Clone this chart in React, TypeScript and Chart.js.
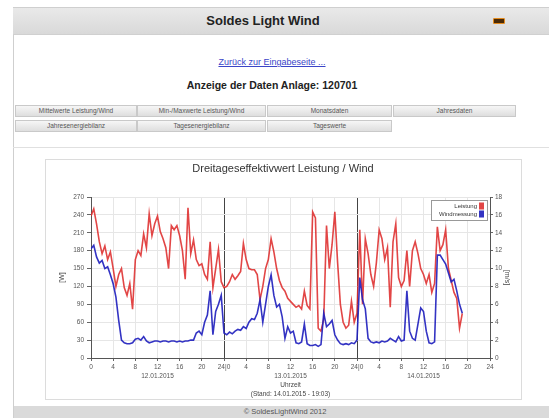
import React, { useEffect, useRef } from "react";
import { Chart, registerables } from "chart.js";

Chart.register(...registerables);

// Half-hourly readings, 12.01.2015 00:00 .. 14.01.2015 19:00
const SAMPLE_STEP_H = 0.5;

const LEISTUNG_W = [
  238, 250, 225, 195, 175, 188, 165, 178, 150, 120,
  140, 150, 118, 105, 125, 82, 165, 180, 172, 208,
  185, 242, 205, 225, 238, 212, 200, 185, 150, 222,
  215, 222, 205, 180, 132, 252, 175, 198, 165, 155,
  158, 140, 132, 195, 118, 150, 182, 128, 118, 120,
  128, 140, 132, 138, 145, 192, 165, 150, 148, 148,
  140, 98, 120, 150, 165, 200, 178, 150, 130, 118,
  112, 100, 95, 90, 85, 88, 82, 112, 88, 82,
  245, 235, 50, 45, 65, 222, 150, 190, 245, 160,
  90, 60, 50, 55, 95, 60, 75, 215, 90, 200,
  175, 140, 120, 160, 215, 200, 165, 185, 85, 195,
  225, 135, 120, 130, 180, 120, 180, 195, 175, 150,
  140, 125, 140, 110, 125, 220, 180, 190, 215, 150,
  130, 110, 100, 50, 75,
];

const WIND_MS = [
  12.2, 12.6, 11.3, 10.6, 10.9, 10.0, 10.2, 9.3, 8.3, 6.8,
  4.2, 2.0, 1.7, 1.6, 1.6, 1.7, 2.1, 2.2, 2.0, 2.4,
  1.9, 1.7, 1.8, 1.9, 1.9, 1.8, 1.9, 1.9, 1.8, 1.9,
  1.9, 1.8, 1.9, 1.8, 1.9, 1.9, 2.0, 2.0, 2.8, 3.0,
  2.6, 4.0, 4.8, 7.5, 2.6, 5.2, 6.0, 7.0, 2.8, 2.6,
  2.9, 2.7, 3.0, 3.2, 3.1, 3.5, 3.3, 4.0, 4.4, 4.3,
  5.0, 6.5, 4.0, 6.0, 8.0, 9.3, 7.0, 5.7, 6.0, 4.6,
  2.2, 3.5, 2.8, 3.0, 1.7, 1.6, 1.8, 3.8, 1.6, 1.4,
  1.4, 1.5, 1.3, 1.5, 5.0, 3.5, 3.8, 4.2, 2.6, 2.0,
  1.6, 1.5, 1.6, 1.5, 1.7, 1.6, 2.0, 9.0, 6.5, 5.5,
  2.2, 1.8, 1.7, 1.8, 1.7, 1.9, 1.8, 1.9, 2.2, 2.0,
  1.8, 2.4, 1.9, 2.0, 7.5, 3.0, 2.2, 2.0, 3.8, 5.6,
  5.2, 3.0, 1.7, 1.6, 1.8, 11.5, 11.5, 11.0, 10.5, 9.5,
  8.5, 8.8, 7.5, 6.0, 5.0,
];

const X_TICK_LABELS = [
  "0", "4", "8", "12", "16", "20", "24|0",
  "4", "8", "12", "16", "20", "24|0",
  "4", "8", "12", "16", "20", "24",
];
const DAY_LABELS: Record<number, string> = {
  12: "12.01.2015",
  36: "13.01.2015",
  60: "14.01.2015",
};
const DAY_BOUNDARIES = [24, 48];

const CHART_TITLE = "Dreitageseffektivwert Leistung / Wind";
const X_TITLE = ["Uhrzeit", "(Stand: 14.01.2015 - 19:03)"];
const Y_LEFT_TITLE = "[W]";
const Y_RIGHT_TITLE = "[m/s]";
const SERIES_NAMES = ["Leistung", "Windmessung"];

const BUTTONS_ROW1 = [
  "Mittelwerte Leistung/Wind",
  "Min-/Maxwerte Leistung/Wind",
  "Monatsdaten",
  "Jahresdaten",
];
const BUTTONS_ROW2 = ["Jahresenergiebilanz", "Tagesenergiebilanz", "Tageswerte"];

const RED = "rgba(222, 44, 44, 0.88)";
const BLUE = "rgba(34, 34, 190, 0.92)";
const FONT = 'Arial, "Liberation Sans", sans-serif';

const boxLegend = {
  id: "boxLegend",
  afterDatasetsDraw(chart: any) {
    const { ctx, chartArea } = chart;
    const w = 56;
    const h = 20;
    const x = chartArea.right - 3 - w;
    const y = chartArea.top + 3;
    ctx.save();
    ctx.fillStyle = "#ffffff";
    ctx.fillRect(x, y, w, h);
    ctx.strokeStyle = "#999";
    ctx.lineWidth = 1;
    ctx.strokeRect(x + 0.5, y + 0.5, w, h);
    ctx.font = `6px ${FONT}`;
    ctx.textAlign = "right";
    ctx.textBaseline = "middle";
    chart.data.datasets.forEach((ds: any, i: number) => {
      const cy = y + 6 + i * 8;
      ctx.fillStyle = "#333";
      ctx.fillText(ds.label, x + w - 10, cy);
      ctx.fillStyle = ds.borderColor;
      ctx.fillRect(x + w - 8, cy - 3.5, 5, 7);
    });
    ctx.restore();
  },
};

function ChartBox() {
  const ref = useRef<HTMLCanvasElement | null>(null);
  useEffect(() => {
    if (!ref.current) return;
    const red = LEISTUNG_W.map((v, i) => ({ x: i * SAMPLE_STEP_H, y: v }));
    const blue = WIND_MS.map((v, i) => ({ x: i * SAMPLE_STEP_H, y: v }));
    const chart = new Chart(ref.current, {
      type: "line",
      data: {
        datasets: [
          {
            label: SERIES_NAMES[0],
            data: red,
            yAxisID: "y",
            borderColor: RED,
            backgroundColor: RED,
            borderWidth: 1.6,
            pointRadius: 0,
            tension: 0,
            order: 1,
          },
          {
            label: SERIES_NAMES[1],
            data: blue,
            yAxisID: "y1",
            borderColor: BLUE,
            backgroundColor: BLUE,
            borderWidth: 1.6,
            pointRadius: 0,
            tension: 0,
            order: 0,
          },
        ],
      },
      options: {
        animation: false,
        responsive: false,
        maintainAspectRatio: false,
        layout: { padding: 0 },
        plugins: {
          legend: { display: false },
          tooltip: { enabled: false },
          title: {
            display: true,
            text: CHART_TITLE,
            color: "#333",
            font: { family: FONT, size: 11, weight: "normal", lineHeight: 1.2 },
            padding: { top: 2, bottom: 21.8 },
          },
        },
        scales: {
          x: {
            type: "linear",
            min: 0,
            max: 72,
            afterFit: (s: any) => {
              s.height = 41;
            },
            ticks: {
              stepSize: 4,
              autoSkip: false,
              maxRotation: 0,
              padding: 1,
              color: "#555",
              font: { family: FONT, size: 6.5, lineHeight: 1.5 },
              callback: (v: any, i: number) => {
                const lbl = X_TICK_LABELS[i] ?? String(v);
                const day = DAY_LABELS[Number(v)];
                return day ? [lbl, day] : lbl;
              },
            },
            grid: {
              color: (c: any) =>
                c.tick && DAY_BOUNDARIES.includes(c.tick.value) ? "#444" : "#e6e6e6",
              tickColor: "#666",
              tickLength: 3,
              lineWidth: 1,
            },
            border: { color: "#555" },
            title: {
              display: true,
              text: X_TITLE,
              color: "#444",
              font: { family: FONT, size: 6.5, lineHeight: 1.38 },
              padding: { top: 0, bottom: 0.5 },
            },
          },
          y: {
            type: "linear",
            position: "left",
            min: 0,
            max: 270,
            afterFit: (s: any) => {
              s.width = 45;
            },
            ticks: {
              stepSize: 30,
              padding: 3,
              color: "#555",
              font: { family: FONT, size: 6.5 },
            },
            grid: { color: "#e6e6e6", tickColor: "#666", tickLength: 4 },
            border: { color: "#555" },
            title: {
              display: true,
              text: Y_LEFT_TITLE,
              color: "#444",
              font: { family: FONT, size: 7, lineHeight: 1.2 },
              padding: { top: 11.8, bottom: 0 },
            },
          },
          y1: {
            type: "linear",
            position: "right",
            min: 0,
            max: 18,
            afterFit: (s: any) => {
              s.width = 30;
            },
            ticks: {
              stepSize: 2,
              padding: 2,
              color: "#555",
              font: { family: FONT, size: 6.5 },
            },
            grid: { drawOnChartArea: false, tickColor: "#666", tickLength: 3 },
            border: { color: "#555" },
            title: {
              display: true,
              text: Y_RIGHT_TITLE,
              color: "#444",
              font: { family: FONT, size: 7, lineHeight: 1.2 },
              padding: { top: 8.8, bottom: 0 },
            },
          },
        },
      },
      plugins: [boxLegend],
    } as any);
    return () => chart.destroy();
  }, []);
  return (
    <canvas
      ref={ref}
      width={474}
      height={239}
      style={{ position: "absolute", left: 46, top: 160, width: 474, height: 239 }}
    />
  );
}

const btnStyle = (left: number, top: number, width: number): React.CSSProperties => ({
  position: "absolute",
  left,
  top,
  width,
  height: 12,
  boxSizing: "border-box",
  border: "1px solid #c9c9c9",
  background: "linear-gradient(#f6f6f6, #dedede)",
  color: "#555",
  fontSize: 6.5,
  lineHeight: "10px",
  textAlign: "center",
  whiteSpace: "nowrap",
  overflow: "hidden",
});

const COLS = [
  [15, 122],
  [137, 129],
  [267, 125],
  [393, 123],
];

export default function App() {
  return (
    <div
      style={{
        position: "absolute",
        left: 0,
        top: 0,
        width: 549,
        height: 418,
        overflow: "hidden",
        background: "#fff",
        fontFamily: FONT,
      }}
    >
      <div style={{ position: "absolute", left: 13, top: 7, width: 1, height: 411, background: "#cfcfcf" }} />
      <div
        style={{
          position: "absolute",
          left: 13,
          top: 7,
          width: 536,
          height: 26,
          borderTop: "1px solid #cfcfcf",
          borderBottom: "1px solid #d0d0d0",
          background: "linear-gradient(#e9e9e9, #d9d9d9)",
        }}
      />
      <div
        style={{
          position: "absolute",
          left: 163,
          top: 13,
          width: 200,
          textAlign: "center",
          fontSize: 13,
          lineHeight: "15px",
          fontWeight: "bold",
          color: "#222",
        }}
      >
        Soldes Light Wind
      </div>
      <div
        style={{
          position: "absolute",
          left: 493,
          top: 18,
          width: 10,
          height: 4,
          background: "#4a2a06",
          border: "1px solid #e38a1c",
          borderRadius: 1,
        }}
      />
      <div
        style={{
          position: "absolute",
          left: 172,
          top: 57,
          width: 200,
          textAlign: "center",
          fontSize: 9,
          lineHeight: "10px",
          color: "#3a45c8",
          textDecoration: "underline",
        }}
      >
        Zurück zur Eingabeseite ...
      </div>
      <div
        style={{
          position: "absolute",
          left: 122,
          top: 79,
          width: 300,
          textAlign: "center",
          fontSize: 10.5,
          lineHeight: "12px",
          fontWeight: "bold",
          color: "#222",
        }}
      >
        Anzeige der Daten Anlage: 120701
      </div>
      {BUTTONS_ROW1.map((t, i) => (
        <div key={"r1" + i} style={btnStyle(COLS[i][0], 105, COLS[i][1])}>
          {t}
        </div>
      ))}
      {BUTTONS_ROW2.map((t, i) => (
        <div key={"r2" + i} style={btnStyle(COLS[i][0], 120, COLS[i][1])}>
          {t}
        </div>
      ))}
      <div style={{ position: "absolute", left: 13, top: 147, width: 536, height: 1, background: "#e0e0e0" }} />
      <div
        style={{
          position: "absolute",
          left: 45,
          top: 159,
          width: 477,
          height: 241,
          boxSizing: "border-box",
          border: "1px solid #dcdcdc",
        }}
      />
      <ChartBox />
      <div
        style={{
          position: "absolute",
          left: 14,
          top: 406,
          width: 535,
          height: 12,
          background: "#dadada",
        }}
      />
      <div
        style={{
          position: "absolute",
          left: 185,
          top: 407,
          width: 200,
          textAlign: "center",
          fontSize: 7.5,
          lineHeight: "10px",
          color: "#555",
        }}
      >
        © SoldesLightWind 2012
      </div>
    </div>
  );
}
